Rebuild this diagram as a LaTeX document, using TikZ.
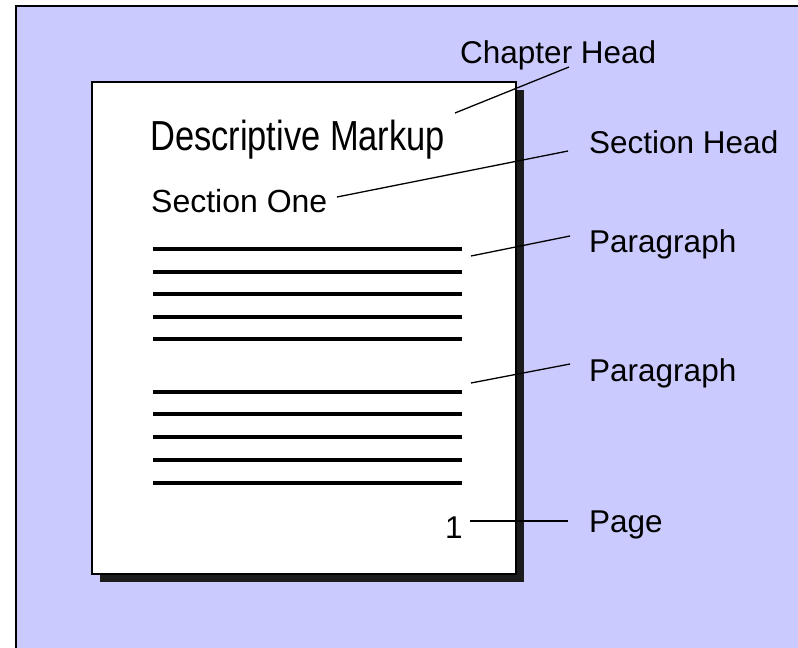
\documentclass[tikz,border=0pt]{standalone}
\usepackage{fontspec}
\setmainfont{Liberation Sans}
\definecolor{bgblue}{HTML}{CACAFF}
\definecolor{shadowgray}{HTML}{1C1C1C}
\begin{document}
\begin{tikzpicture}[x=1pt,y=-1pt,
  lbl/.style={anchor=base west,inner sep=0pt,font=\fontsize{31.5}{36}\selectfont},
  rule/.style={line width=4pt},
  lead/.style={line width=1.3pt}]
\useasboundingbox (0,0) rectangle (798,648);
\begin{scope}
\clip (0,0) rectangle (798,648);
\fill[white] (0,0) rectangle (798,648);
\draw[fill=bgblue,line width=2pt] (16,6) rectangle (810,660);
\end{scope}
% page with shadow
\fill[shadowgray] (100,90) rectangle (524,582);
\draw[fill=white,line width=2pt] (92,82) rectangle (516,574);
% texts on page
\node[anchor=base west,inner sep=0pt,font=\fontsize{42}{46}\selectfont] (title) at (150,150) {\scalebox{0.82}[1]{Descriptive Markup}};
\node[lbl,font=\fontsize{32}{36}\selectfont] (secone) at (151,212) {Section One};
\node[lbl] (num) at (445,538) {1};
% rules
\foreach \yy in {249,272,294,317,339,392,414,437,460,483}
  \draw[rule] (153,\yy) -- (462,\yy);
% labels
\node[lbl] (chap) at (460,63) {Chapter Head};
\node[lbl] (sech) at (589,153) {Section Head};
\node[lbl] (par1) at (589,252) {Paragraph};
\node[lbl] (par2) at (589,381) {Paragraph};
\node[lbl] (page) at (589,532) {Page};
% connector ends
\coordinate (c1a) at (455,113); \coordinate (c1b) at (569,67);
\coordinate (c2a) at (337,197); \coordinate (c2b) at (568,151);
\coordinate (c3a) at (471,256); \coordinate (c3b) at (570,236);
\coordinate (c4a) at (471,383); \coordinate (c4b) at (570,364);
\coordinate (c5a) at (470,521); \coordinate (c5b) at (568,521);
\draw[lead] (c1a) -- (c1b);
\draw[lead] (c2a) -- (c2b);
\draw[lead] (c3a) -- (c3b);
\draw[lead] (c4a) -- (c4b);
\draw[lead] (c5a) -- (c5b);
\end{tikzpicture}
\end{document}
